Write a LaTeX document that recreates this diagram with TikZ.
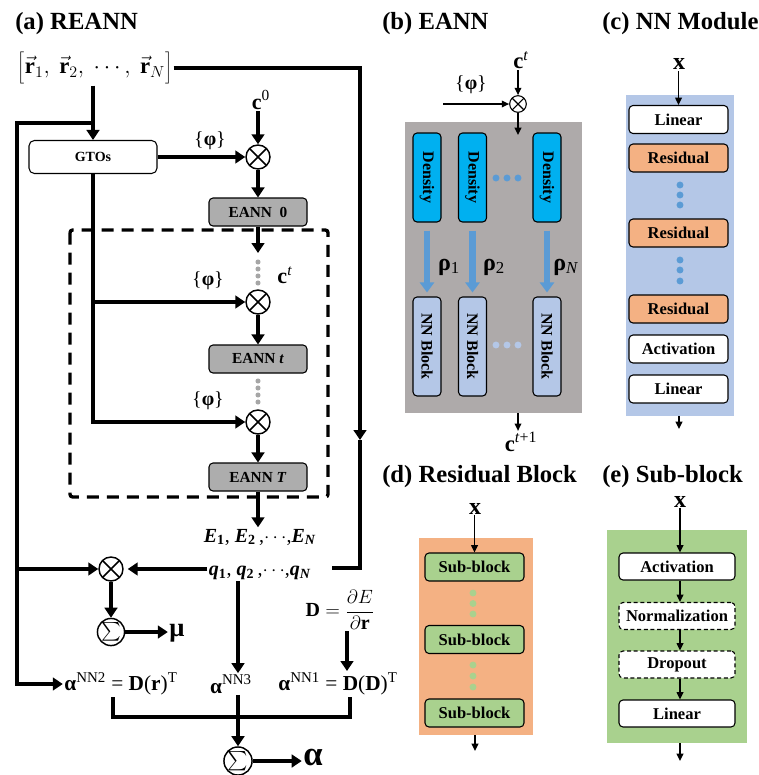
\documentclass[tikz,border=0pt]{standalone}
\usepackage{fontspec}
\setmainfont{Liberation Serif}
\usepackage{graphicx}
\usetikzlibrary{arrows.meta}
\definecolor{gbox}{HTML}{ADADAD}
\definecolor{gbg}{HTML}{AEAAAA}
\definecolor{dens}{HTML}{00B0F0}
\definecolor{bl}{HTML}{5B9BD5}
\definecolor{lbl}{HTML}{B4C7E7}
\definecolor{orng}{HTML}{F4B183}
\definecolor{grn}{HTML}{A9D18E}
\definecolor{gdot}{HTML}{A6A6A6}
\newcommand\fsz[1]{\fontsize{#1}{#1}\selectfont}
\newcommand\bi[1]{\textbf{\textit{#1}}}
\begin{document}
\begin{tikzpicture}[x=0.75pt,y=-0.75pt,
 thk/.style={line width=2.5pt},
 thkarr/.style={line width=2.5pt,-{Triangle[length=7.5pt,width=9.5pt]}},
 thn/.style={line width=1.1pt,-{Triangle[length=5.5pt,width=5pt]}},
 ttl/.style={font=\fsz{18.5}\bfseries,anchor=west,inner sep=0pt},
 oxa/.style={circle,draw,line width=1.1pt,minimum size=18pt,inner sep=0pt,
   path picture={\draw[line width=1.1pt] (path picture bounding box.north west) -- (path picture bounding box.south east) (path picture bounding box.north east) -- (path picture bounding box.south west);}},
 oxbs/.style={circle,draw,line width=0.8pt,minimum size=12.5pt,inner sep=0pt,
   path picture={\draw[line width=0.8pt] (path picture bounding box.north west) -- (path picture bounding box.south east) (path picture bounding box.north east) -- (path picture bounding box.south west);}},
 sig/.style={circle,draw,line width=1.1pt,minimum size=20pt,inner sep=0pt,font=\fsz{10}},
 eann/.style={draw,line width=0.8pt,rounded corners=3pt,fill=gbox,minimum width=73.5pt,minimum height=21pt,inner sep=0pt,font=\fsz{11.5}\bfseries},
 gtobox/.style={draw,line width=0.8pt,rounded corners=4pt,fill=white,minimum width=96pt,minimum height=24.75pt,inner sep=0pt,font=\fsz{10.5}\bfseries},
 cbox/.style={draw,line width=0.8pt,rounded corners=3pt,minimum width=74.25pt,minimum height=21pt,inner sep=0pt,font=\fsz{12.4}\bfseries},
 ebox/.style={draw,line width=0.8pt,rounded corners=3pt,fill=white,minimum width=87pt,minimum height=20.25pt,inner sep=0pt,font=\fsz{12.4}\bfseries},
 vbox/.style={draw,line width=0.8pt,rounded corners=3pt,minimum width=21pt,inner sep=0pt,font=\fsz{12}\bfseries},
 lab/.style={inner sep=1pt}
]
\useasboundingbox (0,0) rectangle (758,775);

% ================= (a) REANN =================
\node[ttl] (ta) at (15,24) {(a) REANN};
\node[lab,font=\fsz{17}] (rv) at (95,68) {$\bigg[\vec{\mathbf r}_{1},\ \vec{\mathbf r}_{2},\ \cdots,\ \vec{\mathbf r}_{N}\bigg]$};
\node[gtobox] (gto) at (93,157) {GTOs};
\node[lab,font=\fsz{16.5}] (c0) at (261,100) {\textbf{c}\textsuperscript{0}};
\node[oxa] (ox0) at (258,157) {};
\node[lab,font=\fsz{15}] (p0) at (210,141) {\{\textbf{φ}\}};
\node[eann] (e0) at (258,212) {EANN\ \ 0};

\draw[line width=2.5pt,dash pattern=on 9pt off 6pt,rounded corners=2pt] (70,230) rectangle (328,497);

\coordinate (d1top) at (258,253);
\foreach \y in {262,269,276,283} \fill[gdot] (258,\y) circle (1.9pt);
\node[lab,font=\fsz{16.5}] (ct) at (285,275) {\textbf{c}\textsuperscript{\textit{t}}};
\node[oxa] (oxt) at (258,302) {};
\node[lab,font=\fsz{15}] (pt) at (208,281) {\{\textbf{φ}\}};
\node[eann] (et) at (258,359) {EANN \textit{t}};
\foreach \y in {381,388,395,402} \fill[gdot] (258,\y) circle (1.9pt);
\node[lab,font=\fsz{15}] (pT) at (208,401) {\{\textbf{φ}\}};
\node[oxa] (oxT) at (258,422) {};
\node[eann] (eT) at (258,477) {EANN \textit{T}};

\node[lab,font=\fsz{15}] (Et) at (260,537) {\bi{E}\textsubscript{\textbf{1}}, \bi{E}\textsubscript{\textbf{2}}\,,$\cdots$,\bi{E}\textsubscript{\bi{N}}};
\node[lab,font=\fsz{15}] (qn) at (260,573) {\bi{q}\textsubscript{\textbf{1}}, \bi{q}\textsubscript{\textbf{2}}\,,$\cdots$,\bi{q}\textsubscript{\bi{N}}};
\node[oxa] (oxm) at (111,569) {};
\node[sig] (sm) at (111,632) {\scalebox{1.4}{$\sum$}};
\node[lab,font=\fsz{20}\bfseries] (mu) at (177,633) {μ};
\node[lab,font=\fsz{15}] (Dl) at (340,610) {$\mathbf{D}=\displaystyle\frac{\partial E}{\partial\mathbf{r}}$};

\node[lab,font=\fsz{16}] (a2) at (121,684) {\textbf{α}\textsuperscript{NN2} = \textbf{D}(\textbf{r})\textsuperscript{T}};
\node[lab,font=\fsz{16}] (a3) at (231,684) {\textbf{α}\textsuperscript{NN3}};
\node[lab,font=\fsz{16}] (a1) at (338,684) {\textbf{α}\textsuperscript{NN1} = \textbf{D}(\textbf{D})\textsuperscript{T}};
\node[sig,minimum size=21pt] (sa) at (238,761) {\scalebox{1.45}{$\sum$}};
\node[lab,font=\fsz{26}\bfseries] (al) at (313,757) {α};

% connectors (a)
\coordinate (jA) at (93,123);
\coordinate (jL) at (17,123);
\coordinate (rc) at (360,440);
\coordinate (qr) at (332,568);
\coordinate (x3) at (238,0);
\coordinate (x1) at (347,0);
\coordinate (bl) at (113,717);
\coordinate (br) at (350,717);
\draw[thkarr] (rv.south -| gto.north) -- (gto.north);
\draw[thkarr] (jA) -- (jL) |- (a2.west);
\draw[thkarr] (jL |- oxm) -- (oxm.west);
\draw[thkarr] (gto.east) -- (ox0.west);
\draw[thkarr] (c0.south -| ox0) -- (ox0.north);
\draw[thkarr] (ox0.south) -- (e0.north);
\draw[thkarr] (e0.south) -- (d1top);
\draw[thkarr] (gto.south) |- (oxT.west);
\draw[thkarr] (gto.south |- oxt) -- (oxt.west);
\draw[thkarr] (oxt.south) -- (et.north);
\draw[thkarr] (oxT.south) -- (eT.north);
\draw[thkarr] (eT.south) -- (Et.north -| eT.south);
\draw[thkarr] (rv.east) -| (rc);
\draw[thk] (rc) |- (qr);
\draw[thkarr,shorten >=3pt] (qn.west |- oxm) -- (oxm.east);
\draw[thkarr] (oxm.south) -- (sm.north);
\draw[thkarr] (sm.east) -- (sm.east -| mu.west);
\draw[thkarr] (qn.south -| x3) -- (a3.north -| x3);
\draw[thkarr] (Dl.south -| x1) -- (a1.north -| x1);
\draw[thk] (a2.south -| bl) -- (bl) -- (br) -- (a1.south -| br);
\draw[thkarr] (a3.south -| x3) -- (sa.north);
\draw[thkarr] (sa.east) -- (sa.east -| al.west);

% ================= (b) EANN =================
\node[ttl] (tb) at (382,24) {(b) EANN};
\node[fill=gbg,minimum width=132.75pt,minimum height=218.25pt,inner sep=0pt] (bgb) at (493.5,267.5) {};
\node[lab,font=\fsz{17}] (ctb) at (521,60) {\textbf{c}\textsuperscript{\textit{t}}};
\node[oxbs] (oxb) at (518,104) {};
\node[lab,font=\fsz{15}] (pb) at (471,85) {\{\textbf{φ}\}};
\coordinate (pbin) at (443,104);
\coordinate (bin) at (518,135);
\draw[thn] (ctb.south -| oxb) -- (oxb.north);
\draw[thn] (pbin) -- (oxb.west);
\draw[thn] (oxb.south) -- (bin);
\node[vbox,fill=dens,minimum height=66.75pt] (d1) at (427,177.5) {\rotatebox{-90}{Density}};
\node[vbox,fill=dens,minimum height=66.75pt] (d2) at (472.5,177.5) {\rotatebox{-90}{Density}};
\node[vbox,fill=dens,minimum height=66.75pt] (d3) at (547,177.5) {\rotatebox{-90}{Density}};
\foreach \x in {496,507,518} \fill[bl] (\x,178) circle (2.6pt);
\node[vbox,fill=lbl,minimum height=74.25pt] (n1) at (427,346.5) {\rotatebox{-90}{NN Block}};
\node[vbox,fill=lbl,minimum height=74.25pt] (n2) at (472.5,346.5) {\rotatebox{-90}{NN Block}};
\node[vbox,fill=lbl,minimum height=74.25pt] (n3) at (547,346.5) {\rotatebox{-90}{NN Block}};
\foreach \x in {496,507,518} \fill[lbl] (\x,345) circle (2.6pt);
\foreach \i in {1,2,3}
  \draw[bl,line width=5pt,-{Triangle[length=7.5pt,width=10.5pt]},shorten <=6pt,shorten >=3pt] (d\i.south) -- (n\i.north);
\node[lab,font=\fsz{18}] (r1) at (449,267) {\textbf{ρ}\textsubscript{1}};
\node[lab,font=\fsz{18}] (r2) at (494,267) {\textbf{ρ}\textsubscript{2}};
\node[lab,font=\fsz{18}] (r3) at (566,267) {\textbf{ρ}\textsubscript{\textit{N}}};
\node[lab,font=\fsz{17}] (ctn) at (521,442) {\textbf{c}\textsuperscript{\textit{t}+1}};
\draw[thn] (bgb.south -| oxb) -- (ctn.north -| oxb);

% ================= (c) NN Module =================
\node[ttl] (tc) at (602,24) {(c) NN Module};
\node[fill=lbl,minimum width=81pt,minimum height=240.75pt,inner sep=0pt] (bgc) at (680,255.5) {};
\node[lab,font=\fsz{18}\bfseries] (xc) at (679,64) {x};
\node[cbox,fill=white] (cl1) at (678.5,119.5) {Linear};
\node[cbox,fill=orng] (cr1) at (678.5,158) {Residual};
\foreach \y in {185,195,205} \fill[bl] (680,\y) circle (2.6pt);
\node[cbox,fill=orng] (cr2) at (678.5,233) {Residual};
\foreach \y in {260,270,281} \fill[bl] (680,\y) circle (2.6pt);
\node[cbox,fill=orng] (cr3) at (678.5,309) {Residual};
\node[cbox,fill=white] (ca) at (678.5,349) {Activation};
\node[cbox,fill=white] (cl2) at (678.5,389) {Linear};
\coordinate (cout) at (679,429);
\draw[thn] (xc.south -| cl1) -- (cl1.north);
\draw[thn] (bgc.south -| cout) -- (cout);

% ================= (d) Residual Block =================
\node[ttl] (td) at (382,477) {(d) Residual Block};
\node[fill=orng,minimum width=85.5pt,minimum height=147.75pt,inner sep=0pt] (bgd) at (476,636.5) {};
\node[inner sep=0pt,font=\fsz{18}\bfseries] (xd) at (475,509) {x};
\node[cbox,fill=grn] (s1) at (474.5,567) {Sub-block};
\foreach \y in {593,603.5,614} \fill[grn] (473,\y) circle (2.6pt);
\node[cbox,fill=grn] (s2) at (474.5,639.5) {Sub-block};
\foreach \y in {665,676,687} \fill[grn] (473,\y) circle (2.6pt);
\node[cbox,fill=grn] (s3) at (474.5,713) {Sub-block};
\coordinate (dout) at (475,751);
\draw[thn] (xd.south -| s1) -- (s1.north);
\draw[thn] (bgd.south -| dout) -- (dout);

% ================= (e) Sub-block =================
\node[ttl] (te) at (602,477) {(e) Sub-block};
\node[fill=grn,minimum width=105pt,minimum height=159.75pt,inner sep=0pt] (bge) at (677,636.5) {};
\node[inner sep=0pt,font=\fsz{18}\bfseries] (xe) at (680,502) {x};
\node[ebox] (ea) at (677,566.5) {Activation};
\node[ebox,dashed,dash pattern=on 3pt off 2pt] (en) at (677,616) {Normalization};
\node[ebox,dashed,dash pattern=on 3pt off 2pt] (ed) at (677,664.5) {Dropout};
\node[ebox] (el) at (677,713.5) {Linear};
\coordinate (eout) at (680,761);
\draw[thn] (xe.south) -- (xe.south |- ea.north);
\draw[thn] (ea.south -| xe) -- (en.north -| xe);
\draw[thn] (en.south -| xe) -- (ed.north -| xe);
\draw[thn] (ed.south -| xe) -- (el.north -| xe);
\draw[thn] (bge.south -| eout) -- (eout);
\end{tikzpicture}
\end{document}
